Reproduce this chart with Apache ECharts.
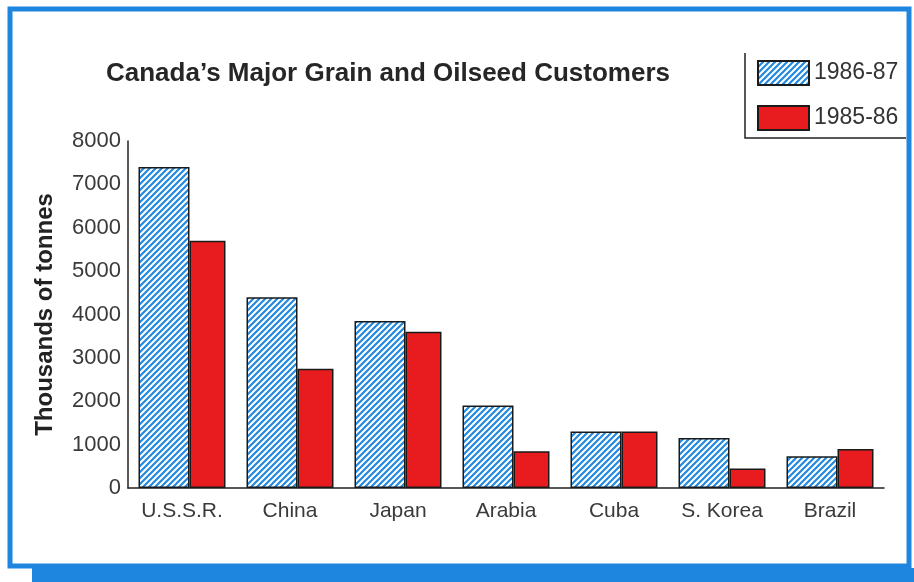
<!DOCTYPE html>
<html>
<head>
<meta charset="utf-8">
<script src="https://cdn.jsdelivr.net/npm/echarts@6/dist/echarts.min.js"></script>
<style>
html,body{margin:0;padding:0;background:#fff;}
#chart{width:914px;height:582px;}
</style>
</head>
<body>
<div id="chart"></div>
<script>
const categories = ['U.S.S.R.', 'China', 'Japan', 'Arabia', 'Cuba', 'S. Korea', 'Brazil'];
const values198687 = [7400, 4400, 3850, 1900, 1300, 1150, 730];
const values198586 = [5700, 2750, 3600, 850, 1300, 450, 900];
const yTicks = [0, 1000, 2000, 3000, 4000, 5000, 6000, 7000, 8000];
const seriesNames = ['1986-87', '1985-86'];

function hatch() {
  const s = 6;
  const c = document.createElement('canvas');
  c.width = s; c.height = s;
  const g = c.getContext('2d');
  g.fillStyle = '#ffffff';
  g.fillRect(0, 0, s, s);
  g.strokeStyle = '#2388e0';
  g.lineWidth = 2.2;
  g.beginPath();
  g.moveTo(0, s); g.lineTo(s, 0);
  g.moveTo(-1, 1); g.lineTo(1, -1);
  g.moveTo(s - 1, s + 1); g.lineTo(s + 1, s - 1);
  g.stroke();
  return c;
}

const chart = echarts.init(document.getElementById('chart'));
const font = '"Liberation Sans", Arial, sans-serif';
chart.setOption({
  backgroundColor: '#ffffff',
  animation: false,
  textStyle: { fontFamily: font },
  title: {
    text: "Canada\u2019s Major Grain and Oilseed Customers",
    left: 106, top: 61, padding: 0,
    textStyle: { fontSize: 26, fontWeight: 'bold', color: '#262626', fontFamily: font }
  },
  legend: {
    orient: 'vertical',
    left: 757, top: 60, padding: 0,
    icon: 'rect',
    itemWidth: 51, itemHeight: 24, itemGap: 19,
    textStyle: { fontSize: 23, color: '#333', fontFamily: font },
    data: seriesNames
  },
  grid: { left: 128, right: 30, top: 141, bottom: 94 },
  xAxis: {
    type: 'category',
    data: categories,
    axisLine: { lineStyle: { color: '#222', width: 1.5 } },
    axisTick: { show: false },
    axisLabel: { interval: 0, fontSize: 21, color: '#3a3a3a', margin: 13, fontFamily: font }
  },
  yAxis: {
    type: 'value',
    min: yTicks[0], max: yTicks[yTicks.length - 1], interval: 1000,
    name: 'Thousands of tonnes',
    nameLocation: 'middle', nameRotate: 90, nameGap: 71,
    nameTextStyle: { fontSize: 24, fontWeight: 'bold', color: '#222', fontFamily: font },
    axisLine: { show: true, lineStyle: { color: '#222', width: 1.5 } },
    axisTick: { show: false },
    splitLine: { show: false },
    axisLabel: { fontSize: 22, color: '#3a3a3a', margin: 7, fontFamily: font, formatter: function (v) { return String(v); } }
  },
  series: [
    {
      name: seriesNames[0], type: 'bar', data: values198687,
      barWidth: 51, barGap: '0%',
      itemStyle: { color: { image: hatch(), repeat: 'repeat' }, borderColor: '#1a1a1a', borderWidth: 1.5 }
    },
    {
      name: seriesNames[1], type: 'bar', data: values198586,
      barWidth: 36, barGap: '0%',
      itemStyle: { color: '#e81c1e', borderColor: '#1a1a1a', borderWidth: 1.5 }
    }
  ],
  graphic: [
    { type: 'rect', shape: { x: 10, y: 9, width: 899, height: 557 }, style: { fill: null, stroke: '#1f86e0', lineWidth: 5 }, silent: true },
    { type: 'rect', shape: { x: 32, y: 568, width: 882, height: 14 }, style: { fill: '#1f86e0' }, silent: true },
    { type: 'polyline', shape: { points: [[745, 53], [745, 138], [906, 138]] }, style: { fill: null, stroke: '#222', lineWidth: 1.5 }, silent: true }
  ]
});
</script>
</body>
</html>
